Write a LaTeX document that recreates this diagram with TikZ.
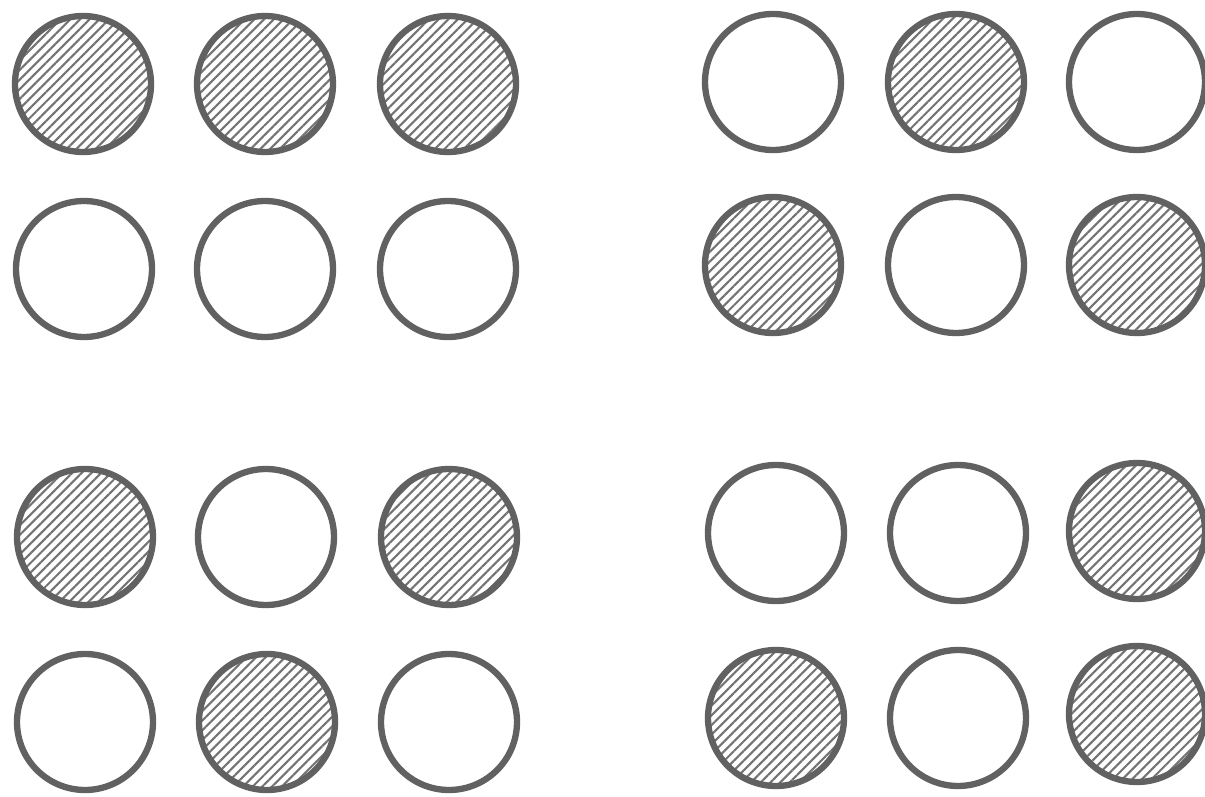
\documentclass[tikz,border=0pt]{standalone}
\usetikzlibrary{patterns.meta}

\begin{document}
\begin{tikzpicture}[
    x=0.02cm,y=-0.02cm,
    disc/.style={circle,draw=black!62,line width=3.6pt,inner sep=0pt,minimum size=2.72cm},
    hatch/.style={pattern={Lines[angle=45,distance=3.9pt,line width=1.2pt]},pattern color=black!55},
    nohatch/.style={fill=white},
  ]
  \useasboundingbox (0,0) rectangle (1205,797);

  % ---------------------------------------------------------------- top left
  \foreach \n/\x/\y/\f in {a1/83/84/hatch, a2/265/84/hatch, a3/448/84/hatch,
                           a4/84/269/nohatch, a5/265/269/nohatch, a6/448/269/nohatch}
    \node[disc,\f] (\n) at (\x,\y) {};

  % ---------------------------------------------------------------- top right
  \foreach \n/\x/\y/\f in {b1/773/82/nohatch, b2/956/82/hatch, b3/1137/82/nohatch,
                           b4/773/265/hatch, b5/956/265/nohatch, b6/1137/265/hatch}
    \node[disc,\f] (\n) at (\x,\y) {};

  % ---------------------------------------------------------------- bottom left
  \foreach \n/\x/\y/\f in {c1/85/537/hatch, c2/266/537/nohatch, c3/449/537/hatch,
                           c4/85/722/nohatch, c5/267/722/hatch, c6/449/722/nohatch}
    \node[disc,\f] (\n) at (\x,\y) {};

  % ---------------------------------------------------------------- bottom right
  \foreach \n/\x/\y/\f in {d1/776/533/nohatch, d2/958/533/nohatch, d3/1137/531/hatch,
                           d4/776/718/hatch, d5/958/718/nohatch, d6/1137/714/hatch}
    \node[disc,\f] (\n) at (\x,\y) {};
\end{tikzpicture}
\end{document}
